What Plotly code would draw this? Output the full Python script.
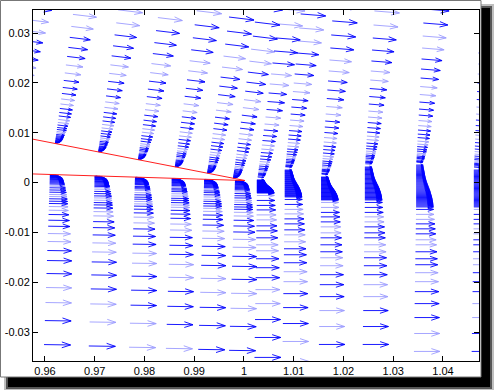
import numpy as np
import plotly.graph_objects as go

# ---------------- axes ----------------
X_RANGE = [0.95759, 1.04724]
Y_RANGE = [-0.03582, 0.03462]
X_TICKS = [0.96, 0.97, 0.98, 0.99, 1.00, 1.01, 1.02, 1.03, 1.04]
X_TICK_TEXT = ["0.96", "0.97", "0.98", "0.99", "1", "1.01", "1.02", "1.03", "1.04"]
Y_TICKS = [-0.03, -0.02, -0.01, 0.0, 0.01, 0.02, 0.03]
Y_TICK_TEXT = ["-0.03", "-0.02", "-0.01", "0", "0.01", "0.02", "0.03"]

# ---------------- surfaces (red lines) ----------------
UPPER_SURFACE_X = [0.955, 1.0002]
UPPER_SURFACE_Y = [0.0092, 0.0004]
LOWER_SURFACE_X = [0.955, 1.0002]
LOWER_SURFACE_Y = [0.0018, 0.0004]

# ---------------- measurement stations ----------------
UPPER_STATIONS = [0.9530, 0.9620, 0.9707, 0.9787, 0.9861, 0.9926, 0.9978]
LOWER_STATIONS = [0.9610, 0.9700, 0.9781, 0.9855, 0.9920, 0.9982]
WAKE_STATIONS = [1.0026, 1.0082, 1.0155, 1.0243, 1.0346, 1.0462]
WAKE_BLOB_TOP = [0.0005, 0.0025, 0.0011, 0.0031, 0.0035, 0.0025]
WAKE_BLOB_BOTTOM = [-0.0021, -0.0029, -0.0035, -0.0035, -0.0049, -0.0049]
WAKE_TILT = [0.13, 0.10, 0.07, 0.06, 0.05, 0.04]

# ---------------- velocity profiles (distance from wall, arrow length) ----------------
UPPER_DIST = [0.00006, 0.00012, 0.00018, 0.00024, 0.00032, 0.00040, 0.00050, 0.00060,
              0.00072, 0.00086, 0.00100, 0.00116, 0.00135, 0.00155, 0.00181, 0.00211,
              0.00241, 0.00281, 0.00321, 0.00371, 0.00422, 0.00482, 0.00552, 0.00622,
              0.00703, 0.00793, 0.00894, 0.01004, 0.01124, 0.01265, 0.01416, 0.01576,
              0.01747, 0.01928, 0.02129, 0.02349, 0.02590, 0.02851, 0.03133, 0.03434,
              0.03755]
UPPER_U = [0.00020, 0.00040, 0.00056, 0.00070, 0.00084, 0.00096, 0.00107, 0.00117,
           0.00125, 0.00133, 0.00141, 0.00147, 0.00153, 0.00159, 0.00165, 0.00173,
           0.00181, 0.00189, 0.00197, 0.00207, 0.00217, 0.00227, 0.00237, 0.00245,
           0.00253, 0.00261, 0.00271, 0.00281, 0.00291, 0.00306, 0.00322, 0.00342,
           0.00362, 0.00386, 0.00412, 0.00442, 0.00472, 0.00492, 0.00503, 0.00513,
           0.00513]
LOWER_DIST = [0.00006, 0.00012, 0.00018, 0.00024, 0.00032, 0.00040, 0.00050, 0.00060,
              0.00072, 0.00084, 0.00098, 0.00112, 0.00129, 0.00147, 0.00167, 0.00189,
              0.00211, 0.00235, 0.00267, 0.00311, 0.00355, 0.00402, 0.00442, 0.00488,
              0.00536, 0.00582, 0.00643, 0.00717, 0.00803, 0.00918, 0.01038, 0.01185,
              0.01345, 0.01526, 0.01727, 0.01988, 0.02269, 0.02570, 0.02932, 0.03414,
              0.03936]
LOWER_U = [0.00040, 0.00080, 0.00120, 0.00150, 0.00180, 0.00200, 0.00220, 0.00237,
           0.00249, 0.00259, 0.00267, 0.00275, 0.00281, 0.00287, 0.00293, 0.00301,
           0.00307, 0.00313, 0.00321, 0.00331, 0.00341, 0.00351, 0.00357, 0.00365,
           0.00371, 0.00377, 0.00386, 0.00394, 0.00406, 0.00422, 0.00438, 0.00454,
           0.00470, 0.00486, 0.00498, 0.00508, 0.00516, 0.00522, 0.00528, 0.00534,
           0.00542]

# wake core (dense rows): relative position inside the core (1 = top, 0 = bottom) and length
BLOB_POS = [1.000, 0.975, 0.950, 0.925, 0.900, 0.875, 0.850, 0.825, 0.800, 0.775,
            0.750, 0.725, 0.700, 0.675, 0.650, 0.625, 0.600, 0.575, 0.550, 0.525,
            0.500, 0.475, 0.450, 0.425, 0.400, 0.375, 0.350, 0.325, 0.300, 0.275,
            0.250, 0.225, 0.200, 0.175, 0.150, 0.125, 0.100, 0.075, 0.050, 0.025,
            0.000]
BLOB_U = [0.00141, 0.00145, 0.00149, 0.00153, 0.00157, 0.00161, 0.00165, 0.00169,
          0.00173, 0.00177, 0.00181, 0.00185, 0.00189, 0.00195, 0.00201, 0.00207,
          0.00213, 0.00221, 0.00229, 0.00237, 0.00245, 0.00253, 0.00261, 0.00269,
          0.00277, 0.00285, 0.00291, 0.00297, 0.00303, 0.00309, 0.00315, 0.00321,
          0.00325, 0.00329, 0.00333, 0.00337, 0.00341, 0.00343, 0.00345, 0.00347,
          0.00349]
WAKE_BELOW_DIST = [0.0005, 0.0015, 0.0025, 0.0034, 0.0044, 0.0054, 0.0066, 0.0076,
                   0.0090, 0.0104, 0.0116, 0.0132, 0.0150, 0.0170, 0.0194, 0.0222,
                   0.0254, 0.0290, 0.0330, 0.0375]
WAKE_BELOW_U = [0.00352, 0.00362, 0.00372, 0.00382, 0.00392, 0.00402, 0.00412, 0.00422,
                0.00432, 0.00442, 0.00452, 0.00462, 0.00472, 0.00482, 0.00492, 0.00502,
                0.00512, 0.00522, 0.00532, 0.00542]
WAKE_ABOVE_MIN_U = 0.0012

UPPER_TILT = 0.14
LOWER_TILT = -0.035
WAKE_LOWER_TILT = -0.015
UPPER_SLOPE = -0.12
WAKE_UPPER_SLOPE = -0.08
LOWER_SLOPE = -0.015

HEAD_A = 0.33
HEAD_B = 0.33

dark = [[], []]
light = [[], []]


def add_arrow(j, i, x, y, u, v, force_dark=False):
    is_light = ((i * 7 + j * 3) % 5) in (0, 3) and not force_dark
    store = light if is_light else dark
    tx, ty = x + u, y + v
    store[0].extend([x, tx, None,
                     tx - HEAD_A * (u + HEAD_B * v), tx, tx - HEAD_A * (u - HEAD_B * v), None])
    store[1].extend([y, ty, None,
                     ty - HEAD_A * (v - HEAD_B * u), ty, ty - HEAD_A * (v + HEAD_B * u), None])


col = 0
for xs in UPPER_STATIONS:
    yb = float(np.interp(xs, UPPER_SURFACE_X, UPPER_SURFACE_Y))
    for i, (d, u) in enumerate(zip(UPPER_DIST, UPPER_U)):
        y = yb + d
        if y > Y_RANGE[1] + 0.001:
            break
        add_arrow(col, i, xs + UPPER_TILT * d, y, u, UPPER_SLOPE * u, force_dark=(i < 12))
    col += 1

for xs in LOWER_STATIONS:
    yb = float(np.interp(xs, LOWER_SURFACE_X, LOWER_SURFACE_Y))
    for i, (d, u) in enumerate(zip(LOWER_DIST, LOWER_U)):
        y = yb - d
        if y < Y_RANGE[0] - 0.001:
            break
        add_arrow(col, i, xs + LOWER_TILT * d, y, u, LOWER_SLOPE * u, force_dark=(i < 14))
    col += 1

for k, xs in enumerate(WAKE_STATIONS):
    top = WAKE_BLOB_TOP[k]
    bot = WAKE_BLOB_BOTTOM[k]
    # dense core
    for i, (p, u) in enumerate(zip(BLOB_POS, BLOB_U)):
        y = bot + p * (top - bot)
        add_arrow(col, i, xs, y, u, 0.0, force_dark=True)
    col += 1
    # rows above the core
    for i, (d, u) in enumerate(zip(UPPER_DIST, UPPER_U)):
        if d < 0.0006:
            continue
        y = top + d
        if y > Y_RANGE[1] + 0.001:
            break
        uu = max(u, WAKE_ABOVE_MIN_U)
        add_arrow(col, i, xs + WAKE_TILT[k] * (d + 0.0006), y, uu, WAKE_UPPER_SLOPE * uu)
    col += 1
    # rows below the core
    for i, (d, u) in enumerate(zip(WAKE_BELOW_DIST, WAKE_BELOW_U)):
        y = bot - d
        if y < Y_RANGE[0] - 0.001:
            break
        add_arrow(col, i, xs + WAKE_LOWER_TILT * d, y, u, 0.0)
    col += 1

fig = go.Figure()
fig.add_trace(go.Scatter(x=light[0], y=light[1], mode="lines",
                         line=dict(color="#9c9cff", width=0.9), hoverinfo="skip"))
fig.add_trace(go.Scatter(x=dark[0], y=dark[1], mode="lines",
                         line=dict(color="#0000ff", width=0.9), hoverinfo="skip"))
fig.add_trace(go.Scatter(x=UPPER_SURFACE_X, y=UPPER_SURFACE_Y, mode="lines",
                         line=dict(color="#ff2020", width=1), hoverinfo="skip"))
fig.add_trace(go.Scatter(x=LOWER_SURFACE_X, y=LOWER_SURFACE_Y, mode="lines",
                         line=dict(color="#ff2020", width=1), hoverinfo="skip"))

W, H = 494, 390
ML, MR, MT, MB = 33, 15, 10, 29
PW, PH = W - ML - MR, H - MT - MB


def px(xp):
    return (xp - ML) / PW


def py(yp):
    return (H - MB - yp) / PH


shapes = [
    dict(type="rect", xref="paper", yref="paper", x0=px(4), x1=px(494), y0=py(390), y1=py(4),
         fillcolor="rgba(0,0,0,0.25)", line=dict(width=0), layer="below"),
    dict(type="rect", xref="paper", yref="paper", x0=px(6), x1=px(492), y0=py(389), y1=py(6),
         fillcolor="rgba(0,0,0,0.55)", line=dict(width=0), layer="below"),
    dict(type="rect", xref="paper", yref="paper", x0=px(8), x1=px(490), y0=py(387), y1=py(8),
         fillcolor="black", line=dict(width=0), layer="below"),
    dict(type="rect", xref="paper", yref="paper", x0=px(0.5), x1=px(481), y0=py(377), y1=py(0.5),
         fillcolor="white", line=dict(width=1, color="#777"), layer="below"),
]

axis_common = dict(showgrid=False, zeroline=False, showline=True, linecolor="black",
                   linewidth=1, mirror="ticks", ticks="inside", ticklen=5,
                   tickcolor="black", tickwidth=1, automargin=False,
                   tickfont=dict(family="Liberation Sans, Arial", size=11, color="black"))

fig.update_layout(
    width=W, height=H,
    margin=dict(l=ML, r=MR, t=MT, b=MB, pad=0, autoexpand=False),
    paper_bgcolor="white", plot_bgcolor="rgba(0,0,0,0)",
    showlegend=False,
    shapes=shapes,
    xaxis=dict(range=X_RANGE, tickvals=X_TICKS, ticktext=X_TICK_TEXT, **axis_common),
    yaxis=dict(range=Y_RANGE, tickvals=Y_TICKS, ticktext=Y_TICK_TEXT, **axis_common),
)

fig.write_html("out.html",
               config={"displayModeBar": False},
               post_script="document.body.style.margin='0';document.body.style.padding='0';")
